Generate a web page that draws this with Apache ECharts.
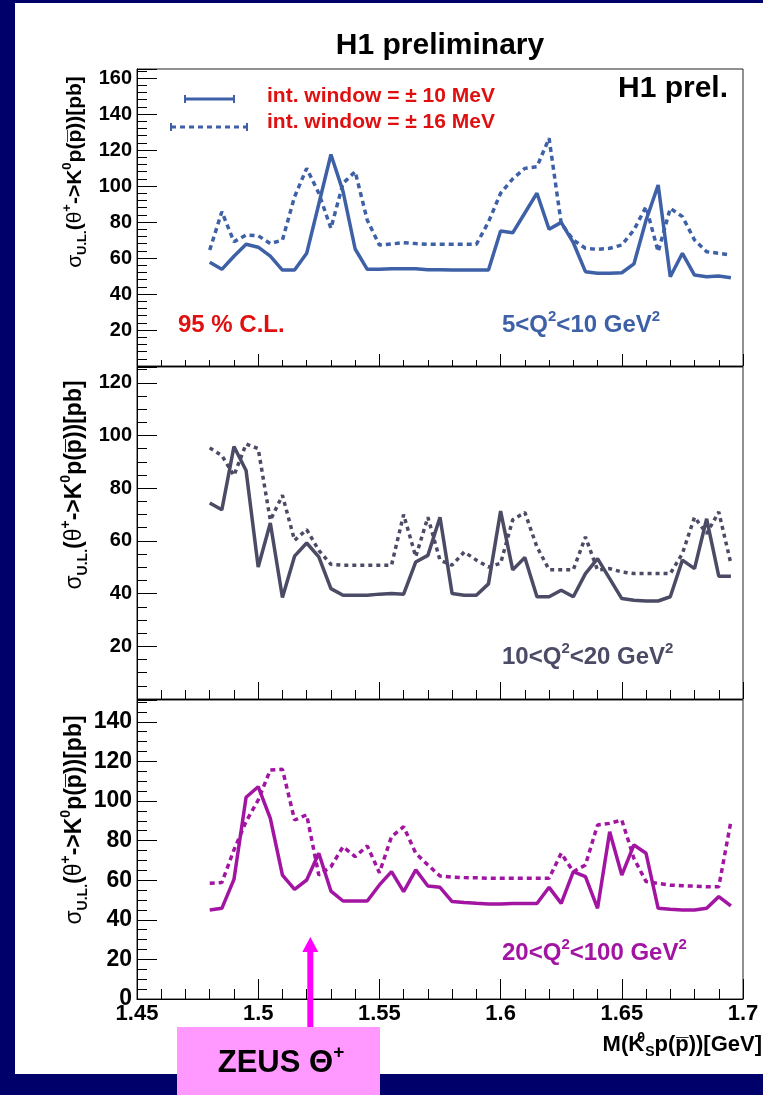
<!DOCTYPE html>
<html><head><meta charset="utf-8">
<script src="https://cdn.jsdelivr.net/npm/echarts@6/dist/echarts.min.js"></script>
<style>
html,body{margin:0;padding:0;background:#00006a;width:763px;height:1095px;overflow:hidden}
#frame{position:absolute;left:15px;top:3px;width:748px;height:1071px;background:#fff}
#chart{position:absolute;left:0;top:0;width:763px;height:1095px}
</style></head><body><div id="frame"></div><div id="chart"></div>
<script>
// invariant mass bin centres [GeV]
const masses = [1.48,1.485,1.49,1.495,1.50,1.505,1.51,1.515,1.52,1.525,
                1.53,1.535,1.54,1.545,1.55,1.555,1.56,1.565,1.57,1.575,
                1.58,1.585,1.59,1.595,1.60,1.605,1.61,1.615,1.62,1.625,
                1.63,1.635,1.64,1.645,1.65,1.655,1.66,1.665,1.67,1.675,
                1.68,1.685,1.69,1.695];
// 5<Q2<10 GeV2
const q5_10_win10 = [57.6,53.7,61,67.6,66,61,53.3,53.3,62.6,90,
                     117.5,97,65,53.7,53.7,54,54,54,53.5,53.5,
                     53.3,53.3,53.3,53.3,75,74,85,96,76,79.8,
                     68.5,52.4,51.5,51.5,51.8,56.7,81,100.5,49.6,62.6,
                     50.5,49.6,50,49];
const q5_10_win16 = [64.4,85.7,69,72.8,72.4,68,70,94,109.8,96,
                     76.5,101.5,108,81,67.2,67.8,68.5,68,67.6,67.6,
                     67.6,67.6,67.6,80,96,104,109.8,110.7,126.5,79.3,
                     70,65.4,64.8,65.4,67.2,75.6,88.5,63.5,87.6,83,
                     70,63.5,62.6,61.7];
// 10<Q2<20 GeV2
const q10_20_win10 = [74.4,71.8,95.8,86.7,50.1,66.8,38.5,54.2,59.2,53.9,
                      41.9,39.4,39.4,39.4,39.8,40,39.8,52,54.5,69,
                      40,39.4,39.4,43.7,71.3,49,53.7,38.8,38.8,41.3,
                      38.8,47.6,53.3,45.7,38.1,37.5,37.2,37.2,38.8,52.7,
                      49.5,68.4,46.6,46.6];
const q10_20_win16 = [95.3,92.4,84.8,96.8,95,67.8,77.3,60.2,64.3,56.4,
                      51.1,50.8,50.8,50.8,50.8,50.8,70,54,69,52.7,
                      50.8,55.8,52.7,50.1,51.5,68,70.8,57.7,49.1,49.1,
                      49.1,61.5,48.9,49.5,48.2,47.6,47.6,47.6,47.6,55.2,
                      69,62.8,71,51.4];
// 20<Q2<100 GeV2
const q20_100_win10 = [45,45.8,60.4,101.9,107.2,91.2,62.6,55.4,60.1,73.6,
                       54.5,49.5,49.5,49.5,57.6,64.3,54.2,65.2,57.1,56.4,
                       49.2,48.7,48.3,48,48,48.2,48.2,48.2,56.4,48.3,
                       64.3,61.8,45.8,84.5,62.6,77.8,73.6,45.8,45.3,45,
                       45,45.8,51.7,47];
const q20_100_win16 = [58.4,58.8,75.3,89.6,100.5,115.7,116,90.4,93,62.6,
                       66.8,76.9,71.9,77.3,63.8,82,87,73.6,67.7,62.1,
                       61.5,61.3,61.2,61,61,61,61,61,61,73.6,
                       64.3,67.7,87.9,88.7,90.4,71,59.3,58.4,57.5,57.2,
                       57,56.7,56.7,89.6];
const xTickLabels = ['1.45','1.5','1.55','1.6','1.65','1.7'];
const zeusMass = 1.5215;

const FONT = "'Liberation Sans', Arial, Helvetica, sans-serif";
const C1 = '#3d60a6', C2 = '#4b4b66', C3 = '#a214a2', RED = '#e01010';

const panels = [
  {top:69,  height:297, yMax:165, minorStep:4, w10:q5_10_win10,  w16:q5_10_win16,  color:C1, dash:[5,4], xTick:12, showZero:false, lblSize:20, xLabels:false},
  {top:367, height:332, yMax:126, minorStep:5, w10:q10_20_win10, w16:q10_20_win16, color:C2, dash:[4,4], xTick:17, showZero:false, lblSize:20, xLabels:false},
  {top:700, height:299, yMax:151, minorStep:5, w10:q20_100_win10,w16:q20_100_win16,color:C3, dash:[5,4], xTick:20, showZero:true,  lblSize:23, xLabels:true}
];

const grid = [], xAxis = [], yAxis = [], series = [];
panels.forEach((p, i) => {
  grid.push({left:137, width:606, top:p.top, height:p.height, show:true,
             borderColor:'#222', borderWidth:1, backgroundColor:'transparent'});
  xAxis.push({type:'value', gridIndex:i, min:1.45, max:1.7, interval:0.05, position:'bottom',
    axisLine:{show:true, onZero:false, lineStyle:{color:'#000', width:1}},
    axisTick:{show:true, inside:true, length:p.xTick, lineStyle:{color:'#000', width:1}},
    minorTick:{show:true, splitNumber:5, length:Math.round(p.xTick/2), lineStyle:{color:'#000', width:1}},
    splitLine:{show:false},
    axisLabel:{show:p.xLabels, margin:4, color:'#000', fontSize:22, fontWeight:'bold', fontFamily:FONT,
      formatter: v => { const k = Math.round((v-1.45)/0.05); return xTickLabels[k] !== undefined ? xTickLabels[k] : ''; }}
  });
  // main y axis (labels + major ticks)
  yAxis.push({type:'value', gridIndex:i, min:0, max:p.yMax, interval:20, position:'left', offset:0,
    axisLine:{show:true, onZero:false, lineStyle:{color:'#000', width:1}},
    axisTick:{show:true, inside:true, length:20, lineStyle:{color:'#000', width:1}},
    splitLine:{show:false},
    axisLabel:{show:true, margin:5, color:'#000', fontSize:p.lblSize, fontWeight:'bold', fontFamily:FONT,
      formatter: v => (Math.abs(v % 20) < 1e-6 && (v > 0 || p.showZero)) ? String(v) : ''}
  });
  // minor y ticks
  yAxis.push({type:'value', gridIndex:i, min:0, max:p.yMax, interval:p.minorStep, position:'left', offset:0,
    axisLine:{show:false}, splitLine:{show:false}, axisLabel:{show:false},
    axisTick:{show:true, inside:true, length:10, lineStyle:{color:'#000', width:1}}
  });
  const yi = i*2;
  series.push({type:'line', xAxisIndex:i, yAxisIndex:yi, showSymbol:false, symbol:'none', z:3,
    lineStyle:{color:p.color, width:3.5, type:'solid'}, data:masses.map((m,k)=>[m, p.w10[k]])});
  series.push({type:'line', xAxisIndex:i, yAxisIndex:yi, showSymbol:false, symbol:'none', z:3,
    lineStyle:{color:p.color, width:3.5, type:p.dash}, data:masses.map((m,k)=>[m, p.w16[k]])});
});

const chart = echarts.init(document.getElementById('chart'), null, {renderer:'canvas'});
chart.setOption({animation:false, backgroundColor:'transparent', grid, xAxis, yAxis, series});

function txt(x, y, text, size, color, align, extra) {
  return Object.assign({type:'text', x, y, z:50, style:{text, fill:color, align:align||'left', verticalAlign:'middle',
    font:'bold '+size+'px '+FONT}}, extra||{});
}
function richTxt(x, y, text, rich, align, extra) {
  return Object.assign({type:'text', x, y, z:50, style:{text, rich, align:align||'left', verticalAlign:'middle'}}, extra||{});
}
function qRich(color, f) {
  return {t:{fontSize:f, fontWeight:'bold', fontFamily:FONT, fill:color, lineHeight:Math.round(f*1.3), verticalAlign:'middle'},
          u:{fontSize:Math.round(f*0.62), fontWeight:'bold', fontFamily:FONT, fill:color, lineHeight:Math.round(f*0.7), verticalAlign:'top'}};
}
function yTitleRich(f) {
  return {
    g:{fontSize:f, fontFamily:FONT, fill:'#000', lineHeight:Math.round(f*1.35), verticalAlign:'middle'},
    m:{fontSize:f, fontWeight:'bold', fontFamily:FONT, fill:'#000', lineHeight:Math.round(f*1.35), verticalAlign:'middle'},
    s:{fontSize:Math.round(f*0.62), fontWeight:'bold', fontFamily:FONT, fill:'#000', lineHeight:Math.round(f*0.75), verticalAlign:'bottom'},
    p:{fontSize:Math.round(f*0.62), fontWeight:'bold', fontFamily:FONT, fill:'#000', lineHeight:Math.round(f*0.75), verticalAlign:'top'}
  };
}
const yTitle = '{g|σ}{s|U.L.}{m|(}{g|θ}{p|+}{m|->K}{p|0}{m|p(p\u0305))[pb]}';

const ax = chart.convertToPixel({xAxisIndex:2}, zeusMass);

const graphic = [
  txt(440, 46, 'H1 preliminary', 30, '#000', 'center'),
  txt(728, 89, 'H1 prel.', 30, '#000', 'right'),
  // legend samples
  {type:'line', z:50, shape:{x1:185,y1:99,x2:234,y2:99}, style:{stroke:C1, lineWidth:3}},
  {type:'line', z:50, shape:{x1:185,y1:95,x2:185,y2:103}, style:{stroke:C1, lineWidth:2}},
  {type:'line', z:50, shape:{x1:234,y1:95,x2:234,y2:103}, style:{stroke:C1, lineWidth:2}},
  {type:'line', z:50, shape:{x1:171,y1:127,x2:247,y2:127}, style:{stroke:C1, lineWidth:3, lineDash:[5,4]}},
  {type:'line', z:50, shape:{x1:171,y1:123,x2:171,y2:131}, style:{stroke:C1, lineWidth:2}},
  {type:'line', z:50, shape:{x1:247,y1:123,x2:247,y2:131}, style:{stroke:C1, lineWidth:2}},
  txt(267, 96, 'int. window = \u00b1 10 MeV', 21, RED),
  txt(267, 122, 'int. window = \u00b1 16 MeV', 21, RED),
  txt(178, 325, '95 % C.L.', 24, RED),
  richTxt(502, 325, '{t|5<Q}{u|2}{t|<10 GeV}{u|2}', qRich(C1, 24)),
  richTxt(502, 657, '{t|10<Q}{u|2}{t|<20 GeV}{u|2}', qRich(C2, 24)),
  richTxt(502, 953, '{t|20<Q}{u|2}{t|<100 GeV}{u|2}', qRich(C3, 24)),
  // y axis titles
  richTxt(75, 172, yTitle, yTitleRich(21), 'center', {rotation:Math.PI/2}),
  richTxt(75, 485, yTitle, yTitleRich(23), 'center', {rotation:Math.PI/2}),
  richTxt(75, 820, yTitle, yTitleRich(23), 'center', {rotation:Math.PI/2}),
  // x axis title
  richTxt(762, 1045, '{m|M(K}{p|0}{s|S}{m|p(p\u0305))[GeV]}', {
    m:{fontSize:22, fontWeight:'bold', fontFamily:FONT, fill:'#000', lineHeight:28, verticalAlign:'middle'},
    p:{fontSize:14, fontWeight:'bold', fontFamily:FONT, fill:'#000', lineHeight:14, verticalAlign:'top', width:1},
    s:{fontSize:14, fontWeight:'bold', fontFamily:FONT, fill:'#000', lineHeight:14, verticalAlign:'bottom'}
  }, 'right'),
  // ZEUS box and arrow
  {type:'rect', z:40, shape:{x:177, y:1027, width:203, height:68}, style:{fill:'#ff99ff'}},
  richTxt(281, 1063, '{t|ZEUS \u0398}{u|+}', {
    t:{fontSize:31, fontWeight:'bold', fontFamily:FONT, fill:'#000', lineHeight:40, verticalAlign:'middle'},
    u:{fontSize:19, fontWeight:'bold', fontFamily:FONT, fill:'#000', lineHeight:20, verticalAlign:'top'}
  }, 'center'),
  {type:'rect', z:45, shape:{x:ax-3, y:950, width:6, height:77}, style:{fill:'#ff00ff'}},
  {type:'polygon', z:45, shape:{points:[[ax,937],[ax-8,952],[ax+8,952]]}, style:{fill:'#ff00ff'}}
];
chart.setOption({graphic});
</script></body></html>
